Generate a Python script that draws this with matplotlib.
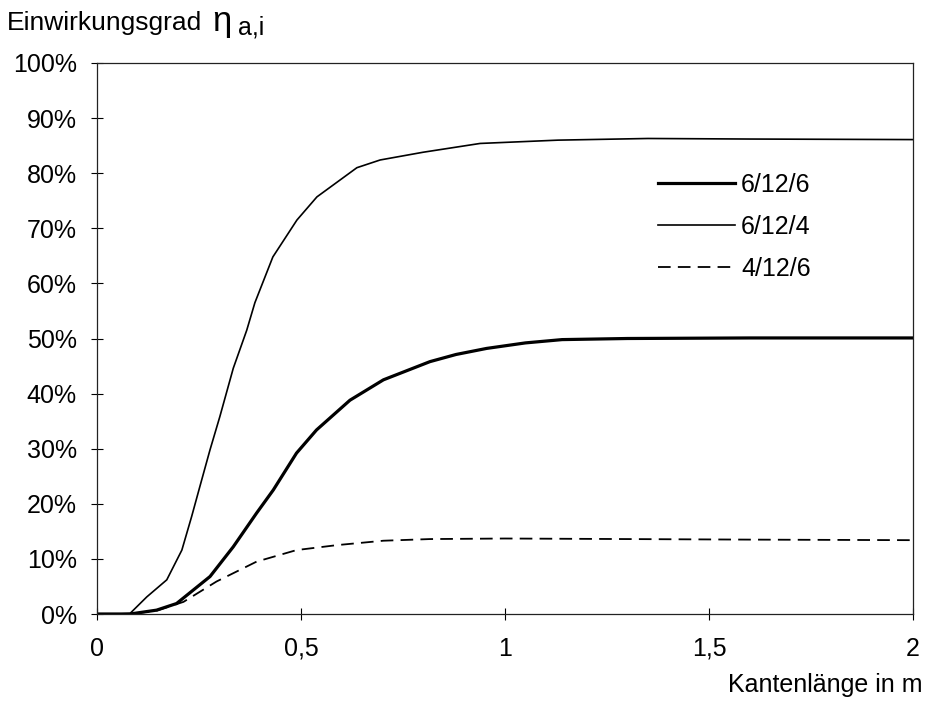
import matplotlib
matplotlib.use("Agg")
import matplotlib.pyplot as plt

plt.rcParams['font.family'] = ['Liberation Sans', 'DejaVu Sans']

# data
x_6126 = [0, 0.081, 0.146, 0.195, 0.277, 0.334, 0.391, 0.432, 0.489, 0.538, 0.62, 0.702,
          0.816, 0.88, 0.955, 1.05, 1.14, 1.3, 1.6, 2.0]
y_6126 = [0, 0, 0.7, 1.9, 6.8, 12.2, 18.3, 22.5, 29.2, 33.4, 38.8, 42.5,
          45.8, 47.1, 48.2, 49.2, 49.8, 50, 50.1, 50.1]

x_6124 = [0, 0.05, 0.081, 0.122, 0.171, 0.208, 0.232, 0.252, 0.277, 0.301, 0.334,
          0.367, 0.387, 0.431, 0.49, 0.539, 0.637, 0.694, 0.799, 0.939, 1.13, 1.35, 1.6, 2.0]
y_6124 = [0, 0, 0.1, 3.1, 6.2, 11.6, 17.7, 23.1, 29.8, 35.8, 44.6,
          51.5, 56.5, 64.8, 71.5, 75.7, 81, 82.4, 83.8, 85.4, 86, 86.3, 86.2, 86.1]

x_4126 = [0, 0.081, 0.146, 0.212, 0.293, 0.391, 0.489, 0.588, 0.702, 0.816, 1.0, 1.3, 1.6, 2.0]
y_4126 = [0, 0, 0.6, 2.2, 5.9, 9.5, 11.6, 12.5, 13.3, 13.6, 13.7, 13.6, 13.5, 13.4]

labels = ["6/12/6", "6/12/4", "4/12/6"]
x_ticks = [0, 0.5, 1, 1.5, 2]
x_ticklabels = ["0", "0,5", "1", "1,5", "2"]
y_ticks = list(range(0, 101, 10))
y_ticklabels = [f"{v}%" for v in y_ticks]

W, H = 926, 703
FS = 18
fig = plt.figure(figsize=(W / 100, H / 100), dpi=100)
ax = fig.add_axes([97 / W, 1 - 614 / H, (913 - 97) / W, (614 - 63) / H])

ax.plot(x_6126, y_6126, color='black', lw=2.3, label=labels[0])
ax.plot(x_6124, y_6124, color='black', lw=1.2, label=labels[1])
ax.plot(x_4126, y_4126, color='black', lw=1.3, dashes=(7, 4), label=labels[2])

ax.set_xlim(0, 2)
ax.set_ylim(0, 100)
ax.set_xticks(x_ticks)
ax.set_xticklabels(x_ticklabels)
ax.set_yticks(y_ticks)
ax.set_yticklabels(y_ticklabels)
ax.tick_params(axis='both', direction='inout', length=9, width=0.8, labelsize=FS,
               colors='black')
ax.tick_params(axis='x', pad=12)
ax.tick_params(axis='y', pad=10)
for s in ax.spines.values():
    s.set_linewidth(0.9)
    s.set_color('#222222')

ax.legend(loc='upper left', bbox_to_anchor=(0.6875, 0.801), frameon=False, fontsize=FS,
          handlelength=3.08, handletextpad=0.25, labelspacing=0.72, borderaxespad=0,
          borderpad=0)

fig.text(7 / W, 1 - 30 / H, "Einwirkungsgrad", fontsize=19, ha='left', va='baseline')
fig.text(212 / W, 1 - 31 / H, "η", fontsize=25, ha='left', va='baseline')
fig.text(238 / W, 1 - 34 / H, "a,i", fontsize=18, ha='left', va='baseline')
fig.text(922 / W, 1 - 685 / H, "Kantenlänge in m", fontsize=FS, ha='right', va='center')

fig.savefig("out.png", dpi=100)
